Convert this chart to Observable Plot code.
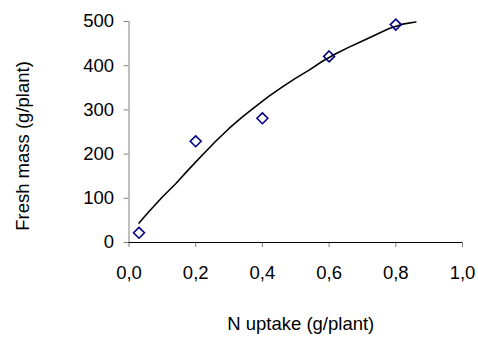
<!DOCTYPE html>
<html>
<head>
<meta charset="utf-8">
<script src="https://cdn.jsdelivr.net/npm/d3@7"></script>
<script src="https://cdn.jsdelivr.net/npm/@observablehq/plot@0.6"></script>
<style>
  html, body { margin: 0; padding: 0; background: #fff; }
  svg { display: block; }
</style>
</head>
<body>
<div id="chart"></div>
<script>
// Observed points
const uptake = [0.03, 0.2, 0.4, 0.6, 0.8];
const freshMass = [22, 229, 281, 421, 493];

// Fitted curve
const curveX = [0.03, 0.06, 0.10, 0.14, 0.18, 0.22, 0.26, 0.30, 0.34, 0.38, 0.42, 0.46, 0.50, 0.54, 0.58, 0.62, 0.66, 0.70, 0.74, 0.78, 0.82, 0.86];
const curveY = [44, 70, 103, 133, 166, 198, 229, 258, 284, 308, 331, 352, 372, 390, 410, 427, 442, 456, 470, 484, 494, 499];

// Ticks and labels
const xTicks = [0, 0.2, 0.4, 0.6, 0.8, 1.0];
const yTicks = [0, 100, 200, 300, 400, 500];
const xLabel = "N uptake (g/plant)";
const yLabel = "Fresh mass (g/plant)";

const points = uptake.map((x, i) => ({x, y: freshMass[i]}));
const curve = curveX.map((x, i) => ({x, y: curveY[i]}));

const chart = Plot.plot({
  width: 478,
  height: 339,
  marginLeft: 128.5,
  marginRight: 16,
  marginTop: 21,
  marginBottom: 97,
  style: {fontFamily: "'Liberation Sans', Arial, sans-serif", fontSize: "18.5px", color: "#000", background: "#fff"},
  x: {domain: [0, 1], ticks: xTicks},
  y: {domain: [0, 500], ticks: yTicks},
  marks: [
    Plot.axisX({ticks: xTicks, tickSize: 5, tickPadding: 18, stroke: "#808080", fill: "#000",
      tickFormat: d => d.toFixed(1).replace(".", ","), label: null}),
    Plot.axisY({ticks: yTicks, tickSize: 5, tickPadding: 10, stroke: "#808080", fill: "#000", label: null}),
    Plot.ruleX([0], {stroke: "#808080", strokeWidth: 1}),
    Plot.ruleY([0], {stroke: "#000", strokeWidth: 1.2}),
    Plot.line(curve, {x: "x", y: "y", stroke: "#000", strokeWidth: 1.6}),
    Plot.dot(points, {x: "x", y: "y", symbol: "diamond2", r: 4.9, stroke: "#000080", strokeWidth: 1.6, fill: "none"}),
    Plot.text([xLabel], {text: d => d, frameAnchor: "bottom", textAnchor: "middle", dx: 5, dy: 82, lineAnchor: "middle", fill: "#000"}),
    Plot.text([yLabel], {text: d => d, frameAnchor: "left", textAnchor: "middle", rotate: -90, dx: -106, dy: 14, lineAnchor: "middle", fill: "#000"})
  ]
});
document.getElementById("chart").appendChild(chart);
</script>
</body>
</html>
